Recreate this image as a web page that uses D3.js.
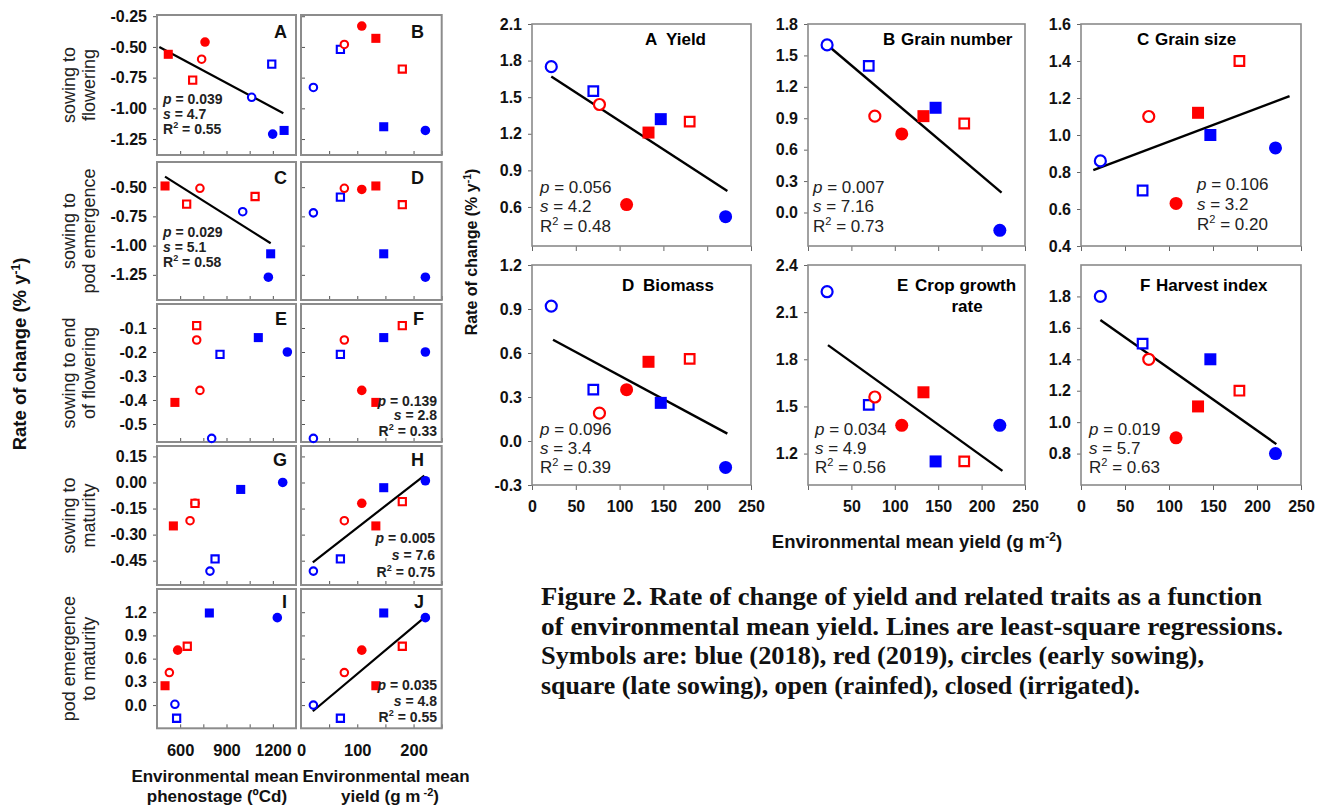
<!DOCTYPE html>
<html lang="en">
<head>
<meta charset="UTF-8">
<script src="https://cdn.jsdelivr.net/npm/d3@7"></script>
<title>Rate of change vs environmental mean</title>
<style>
  body { margin: 0; background: #fff; }
</style>
</head>
<body>
<script>
const FONT = "'Liberation Sans', Arial, Helvetica, sans-serif";
const SERIF = "'Liberation Serif', 'Times New Roman', serif";
const blue = "#0000ff", red = "#ff0000";

// environments: colour b=2018 r=2019, shape c=early s=late sowing, fill o=rainfed f=irrigated
const envSym = ["bco", "bso", "rco", "rcf", "rsf", "bsf", "rso", "bcf"];
const envYield = [22, 70, 77, 108, 133, 147, 180, 221];

// ---- right block (rate of change vs environmental mean yield)
const rateYield     = [1.75, 1.55, 1.44, 0.62, 1.21, 1.32, 1.30, 0.52];
const rateGrainNum  = [1.60, 1.40, 0.92, 0.75, 0.92, 1.00, 0.85, -0.17];
const rateGrainSize = [0.86, 0.70, 1.10, 0.63, 1.12, 1.00, 1.40, 0.93];
const rateBiomass   = [0.92, 0.35, 0.19, 0.35, 0.54, 0.26, 0.56, -0.18];
const rateCgr       = [2.23, 1.51, 1.56, 1.38, 1.59, 1.15, 1.15, 1.38];
const rateHi        = [1.80, 1.50, 1.40, 0.90, 1.10, 1.40, 1.20, 0.80];

// regression lines [x0, y0, x1, y1]
const fitYield     = [22, 1.67, 223, 0.73];
const fitGrainNum  = [25, 1.58, 223, 0.19];
const fitGrainSize = [14, 0.81, 237, 1.21];
const fitBiomass   = [24, 0.69, 223, 0.05];
const fitCgr       = [23, 1.89, 224, 1.09];
const fitHi        = [22, 1.65, 222, 0.86];

// p, s, R2
const statYield     = ["0.056", "4.2", "0.48"];
const statGrainNum  = ["0.007", "7.16", "0.73"];
const statGrainSize = ["0.106", "3.2", "0.20"];
const statBiomass   = ["0.096", "3.4", "0.39"];
const statCgr       = ["0.034", "4.9", "0.56"];
const statHi        = ["0.019", "5.7", "0.63"];

const ticksYield     = [0.6, 0.9, 1.2, 1.5, 1.8, 2.1];
const ticksGrainNum  = [0, 0.3, 0.6, 0.9, 1.2, 1.5, 1.8];
const ticksGrainSize = [0.4, 0.6, 0.8, 1.0, 1.2, 1.4, 1.6];
const ticksBiomass   = [-0.3, 0, 0.3, 0.6, 0.9, 1.2];
const ticksCgr       = [1.2, 1.5, 1.8, 2.1, 2.4];
const ticksHi        = [0.8, 1.0, 1.2, 1.4, 1.6, 1.8];
const ticksYieldX    = [0, 50, 100, 150, 200, 250];

// ---- left block (phenological phases)
const phenoFlower    = [1063, 1193, 739, 761, 523, 1273, 681, 1199];
const phenoPodEm     = [1005, 1085, 728, null, 502, 1186, 642, 1171];
const phenoEndFlower = [804, 858, 707, 728, 566, 1106, 707, 1294];
const phenoMaturity  = [793, 826, 664, 696, 556, 992, 696, 1264];
const phenoPodToMat  = [566, 577, 530, 584, 502, 789, 646, 1229];

const rateFlowerA    = [-0.91, -0.64, -0.60, -0.46, -0.56, -1.18, -0.77, -1.21];
const rateFlowerB    = [-0.83, -0.52, -0.48, -0.33, -0.43, -1.15, -0.68, -1.18];
const ratePodEmC     = [-0.71, -0.58, -0.51, -0.52, -0.49, -1.07, -0.645, -1.27];
const ratePodEmD     = [-0.72, -0.585, -0.51, -0.52, -0.49, -1.07, -0.65, -1.27];
const rateEndFlowerE = [-0.56, -0.21, -0.15, -0.36, -0.41, -0.14, -0.09, -0.20];
const rateEndFlowerF = [-0.56, -0.21, -0.15, -0.36, -0.41, -0.14, -0.09, -0.20];
const rateMaturityG  = [-0.51, -0.44, -0.22, -0.12, -0.25, -0.04, -0.12, 0.00];
const rateMaturityH  = [-0.51, -0.44, -0.22, -0.12, -0.25, -0.03, -0.11, 0.01];
const ratePodToMatI  = [0.01, -0.17, 0.42, 0.71, 0.25, 1.19, 0.76, 1.13];
const ratePodToMatJ  = [0.00, -0.17, 0.42, 0.71, 0.25, 1.19, 0.76, 1.13];

// symbols as they appear in panels C and E
const symPodEmC     = ["bco", "rso", "rco", "rcf", "rsf", "bsf", "rso", "bcf"];
const symEndFlowerE = ["bco", "bso", "rco", "rco", "rsf", "bsf", "rso", "bcf"];

const fitFlowerA   = [465, -0.50, 1268, -1.04];
const fitPodEmC    = [502, -0.41, 1186, -0.98];
const fitMaturityH = [21, -0.46, 219, 0.04];
const fitPodToMatJ = [21, -0.08, 219, 1.13];

const statFlowerA    = ["0.039", "4.7", "0.55"];
const statPodEmC     = ["0.029", "5.1", "0.58"];
const statEndFlowerF = ["0.139", "2.8", "0.33"];
const statMaturityH  = ["0.005", "7.6", "0.75"];
const statPodToMatJ  = ["0.035", "4.8", "0.55"];

const ticksFlower    = [-1.25, -1.0, -0.75, -0.5, -0.25];
const ticksPodEm     = [-1.25, -1.0, -0.75, -0.5];
const ticksEndFlower = [-0.5, -0.4, -0.3, -0.2, -0.1];
const ticksMaturity  = [-0.45, -0.3, -0.15, 0, 0.15];
const ticksPodToMat  = [0, 0.3, 0.6, 0.9, 1.2];
const ticksPhenoMarks = [450, 600, 750, 900, 1050, 1200, 1350];
const ticksPhenoLabels = [600, 900, 1200];
const ticksYieldLabels = [0, 100, 200];

const rowTitles = [["sowing to", "flowering"], ["sowing to", "pod emergence"],
                   ["sowing to end", "of flowering"], ["sowing to", "maturity"],
                   ["pod emergence", "to maturity"]];

const captionLines = [
  "Figure 2. Rate of change of yield and related traits as a function",
  "of environmental mean yield. Lines are least-square regressions.",
  "Symbols are: blue (2018), red (2019), circles (early sowing),",
  "square (late sowing), open (rainfed), closed (irrigated)."
];

const svg = d3.select("body").append("svg")
  .attr("width", 1328).attr("height", 805)
  .attr("font-family", FONT);

function drawSymbols(g, x, y, xs, ys, syms, big) {
  const area = big ? { cf: 133, sf: 144, co: 95, so: 92 } : { cf: 72, sf: 82, co: 44, so: 52 };
  const sw = big ? 2.2 : 2.1;
  xs.forEach((xv, i) => {
    const yv = ys[i];
    if (xv == null || yv == null) return;
    const s = syms[i];
    const col = s[0] === "b" ? blue : red;
    const open = s[2] === "o";
    const type = s[1] === "c" ? d3.symbolCircle : d3.symbolSquare;
    const size = area[s[1] + (open ? "o" : "f")];
    g.append("path")
      .attr("d", d3.symbol(type, size)())
      .attr("transform", `translate(${x(xv)},${y(yv)})`)
      .attr("fill", open ? "#fff" : col)
      .attr("stroke", open ? col : "none")
      .attr("stroke-width", sw);
  });
}

function drawFit(g, x, y, f, w) {
  g.append("line")
    .attr("x1", x(f[0])).attr("y1", y(f[1]))
    .attr("x2", x(f[2])).attr("y2", y(f[3]))
    .attr("stroke", "#000").attr("stroke-width", w);
}

function drawStats(g, x, ys, anchor, size, bold, vals) {
  const base = (yy) => g.append("text").attr("x", x).attr("y", yy)
    .attr("text-anchor", anchor).attr("font-size", size)
    .attr("font-weight", bold ? "bold" : "normal").attr("fill", "#222");
  const t1 = base(ys[0]);
  t1.append("tspan").attr("font-style", "italic").text("p");
  t1.append("tspan").text(" = " + vals[0]);
  const t2 = base(ys[1]);
  t2.append("tspan").attr("font-style", "italic").text("s");
  t2.append("tspan").text(" = " + vals[1]);
  const t3 = base(ys[2]);
  t3.append("tspan").text("R");
  t3.append("tspan").attr("dy", -size * 0.4).attr("font-size", size * 0.65).text("2");
  t3.append("tspan").attr("dy", size * 0.4).text(" = " + vals[2]);
}

// ================= right block =================
const colX = [[532, 751], [808, 1025], [1081, 1301]];
const rowY = [[24, 246], [265, 485]];

const rightPanels = [
  { letter: "A", title: ["Yield"], col: 0, row: 0, dom: [0.28, 2.1], ticks: ticksYield, ys: rateYield, fit: fitYield, stats: statYield, lx: 645, tx: 666, sx: 540, sy: [193, 212, 232] },
  { letter: "B", title: ["Grain number"], col: 1, row: 0, dom: [-0.32, 1.8], ticks: ticksGrainNum, ys: rateGrainNum, fit: fitGrainNum, stats: statGrainNum, lx: 883, tx: 901, sx: 813, sy: [193, 212, 232] },
  { letter: "C", title: ["Grain size"], col: 2, row: 0, dom: [0.4, 1.6], ticks: ticksGrainSize, ys: rateGrainSize, fit: fitGrainSize, stats: statGrainSize, lx: 1137, tx: 1155, sx: 1197, sy: [190, 210, 230] },
  { letter: "D", title: ["Biomass"], col: 0, row: 1, dom: [-0.3, 1.2], ticks: ticksBiomass, ys: rateBiomass, fit: fitBiomass, stats: statBiomass, lx: 622, tx: 643, sx: 540, sy: [435, 454, 473] },
  { letter: "E", title: ["Crop growth", "rate"], col: 1, row: 1, dom: [1.0, 2.4], ticks: ticksCgr, ys: rateCgr, fit: fitCgr, stats: statCgr, lx: 897, tx: 915, sx: 815, sy: [435, 454, 473] },
  { letter: "F", title: ["Harvest index"], col: 2, row: 1, dom: [0.6, 2.0], ticks: ticksHi, ys: rateHi, fit: fitHi, stats: statHi, lx: 1140, tx: 1156, sx: 1089, sy: [435, 454, 473] }
];

rightPanels.forEach(p => {
  const [x0, x1] = colX[p.col], [y0, y1] = rowY[p.row];
  const x = d3.scaleLinear().domain([0, 250]).range([x0, x1]);
  const y = d3.scaleLinear().domain(p.dom).range([y1, y0]);
  const g = svg.append("g");

  const ya = g.append("g").attr("transform", `translate(${x0},0)`)
    .call(d3.axisLeft(y).tickValues(p.ticks).tickSize(4).tickPadding(6).tickFormat(d => d.toFixed(1)));
  ya.select(".domain").remove();
  ya.attr("font-family", FONT).attr("font-size", 16).attr("font-weight", "bold").attr("color", "#666");
  ya.selectAll("text").attr("fill", "#111");

  const xa = g.append("g").attr("transform", `translate(0,${y1})`)
    .call(d3.axisBottom(x).tickValues(ticksYieldX).tickSize(5).tickPadding(11)
      .tickFormat(d => p.row === 1 && !(p.col === 1 && d === 0) ? d : ""));
  xa.select(".domain").remove();
  xa.attr("font-family", FONT).attr("font-size", 16).attr("font-weight", "bold").attr("color", "#666");
  xa.selectAll("text").attr("fill", "#111");

  g.append("rect").attr("x", x0).attr("y", y0).attr("width", x1 - x0).attr("height", y1 - y0)
    .attr("fill", "none").attr("stroke", "#8a8a8a").attr("stroke-width", 1.6);

  drawFit(g, x, y, p.fit, 2.4);
  drawSymbols(g, x, y, envYield, p.ys, envSym, true);
  drawStats(g, p.sx, p.sy, "start", 17, false, p.stats);

  const tb = p.row === 0 ? 45 : 291;
  g.append("text").attr("x", p.lx).attr("y", tb).attr("font-size", 17).attr("font-weight", "bold").text(p.letter);
  g.append("text").attr("x", p.tx).attr("y", tb).attr("font-size", 17).attr("font-weight", "bold").text(p.title[0]);
  if (p.title[1]) {
    g.append("text").attr("x", 967).attr("y", tb + 21).attr("text-anchor", "middle")
      .attr("font-size", 17).attr("font-weight", "bold").text(p.title[1]);
  }
});

// right axis titles
const rYT = svg.append("text").attr("transform", "translate(477,252) rotate(-90)")
  .attr("text-anchor", "middle").attr("font-size", 16).attr("font-weight", "bold").attr("fill", "#111");
rYT.append("tspan").text("Rate of change (% y");
rYT.append("tspan").attr("dy", -6).attr("font-size", 10.5).text("-1");
rYT.append("tspan").attr("dy", 6).text(")");

const rXT = svg.append("text").attr("x", 917).attr("y", 548)
  .attr("text-anchor", "middle").attr("font-size", 18.5).attr("font-weight", "bold").attr("fill", "#111");
rXT.append("tspan").text("Environmental mean yield (g m");
rXT.append("tspan").attr("dy", -7).attr("font-size", 12).text("-2");
rXT.append("tspan").attr("dy", 7).text(")");

// ================= left block =================
const lColX = [[157, 296], [301, 441.7]];
const lRows = [
  { top: 15, bottom: 155, dom: [-1.38, -0.24], ticks: ticksFlower, dig: 2, px: phenoFlower, yA: rateFlowerA, yB: rateFlowerB, symA: envSym, letters: ["A", "B"], fitA: fitFlowerA, statA: statFlowerA, statAPos: [163, [104, 118.5, 134], "start"], lb: 38 },
  { top: 162, bottom: 300, dom: [-1.465, -0.285], ticks: ticksPodEm, dig: 2, px: phenoPodEm, yA: ratePodEmC, yB: ratePodEmD, symA: symPodEmC, letters: ["C", "D"], fitA: fitPodEmC, statA: statPodEmC, statAPos: [163, [237, 252, 267], "start"], lb: 184 },
  { top: 304, bottom: 442, dom: [-0.575, 0], ticks: ticksEndFlower, dig: 1, px: phenoEndFlower, yA: rateEndFlowerE, yB: rateEndFlowerF, symA: symEndFlowerE, letters: ["E", "F"], statB: statEndFlowerF, statBPos: [437, [405.7, 420, 435.5], "end"], lb: 325 },
  { top: 446, bottom: 585, dom: [-0.59, 0.21], ticks: ticksMaturity, dig: 2, px: phenoMaturity, yA: rateMaturityG, yB: rateMaturityH, symA: envSym, letters: ["G", "H"], fitB: fitMaturityH, statB: statMaturityH, statBPos: [435, [543, 560, 577], "end"], lb: 466 },
  { top: 589, bottom: 728.3, dom: [-0.3, 1.5], ticks: ticksPodToMat, dig: 1, px: phenoPodToMat, yA: ratePodToMatI, yB: ratePodToMatJ, symA: envSym, letters: ["I", "J"], fitB: fitPodToMatJ, statB: statPodToMatJ, statBPos: [437, [690, 705.5, 721.5], "end"], lb: 608 }
];

lRows.forEach((r, ri) => {
  const y = d3.scaleLinear().domain(r.dom).range([r.bottom, r.top]);
  const xP = d3.scaleLinear().domain([450, 1350]).range(lColX[0]);
  const xY = d3.scaleLinear().domain([0, 250]).range(lColX[1]);
  const last = ri === lRows.length - 1;

  [0, 1].forEach(c => {
    const [x0, x1] = lColX[c];
    const x = c === 0 ? xP : xY;
    const g = svg.append("g");

    // y axis
    const ya = g.append("g").attr("transform", `translate(${x0},0)`)
      .call(c === 0
        ? d3.axisLeft(y).tickValues(r.ticks).tickSize(4).tickPadding(6).tickFormat(d => d.toFixed(r.dig))
        : d3.axisRight(y).tickValues(r.ticks).tickSize(4).tickFormat(""));
    ya.select(".domain").remove();
    ya.attr("font-family", FONT).attr("font-size", 16).attr("font-weight", "bold").attr("color", "#555");
    ya.selectAll("text").attr("fill", "#111");

    // bottom tick marks (inward)
    const xa = g.append("g").attr("transform", `translate(0,${r.bottom})`)
      .call(d3.axisTop(x).tickValues(c === 0 ? ticksPhenoMarks : ticksYieldX).tickSize(4).tickFormat(""));
    xa.select(".domain").remove();
    xa.attr("color", "#555");

    if (last) {
      const xl = g.append("g").attr("transform", `translate(0,${r.bottom})`)
        .call(d3.axisBottom(x).tickValues(c === 0 ? ticksPhenoLabels : ticksYieldLabels)
          .tickSize(0).tickPadding(16).tickFormat(d3.format("d")));
      xl.select(".domain").remove();
      xl.attr("font-family", FONT).attr("font-size", 16.5).attr("font-weight", "bold");
      xl.selectAll("text").attr("fill", "#111");
    }

    g.append("rect").attr("x", x0).attr("y", r.top).attr("width", x1 - x0).attr("height", r.bottom - r.top)
      .attr("fill", "none").attr("stroke", "#8c8c8c").attr("stroke-width", 2);

    const fit = c === 0 ? r.fitA : r.fitB;
    if (fit) drawFit(g, x, y, fit, 2.2);

    drawSymbols(g, x, y, c === 0 ? r.px : envYield, c === 0 ? r.yA : r.yB, c === 0 ? r.symA : envSym, false);

    const st = c === 0 ? r.statA : r.statB;
    const sp = c === 0 ? r.statAPos : r.statBPos;
    if (st) drawStats(g, sp[0], sp[1], sp[2], 14, true, st);

    g.append("text").attr("x", c === 0 ? 287 : 424).attr("y", r.lb)
      .attr("text-anchor", "end").attr("font-size", 18).attr("font-weight", "bold").attr("fill", "#111")
      .text(r.letters[c]);
  });

  // row title
  const cy = (r.top + r.bottom) / 2;
  rowTitles[ri].forEach((t, k) => {
    svg.append("text").attr("transform", `translate(${k === 0 ? 75 : 95},${cy}) rotate(-90)`)
      .attr("text-anchor", "middle").attr("font-size", 18).attr("fill", "#222").text(t);
  });
});

// left axis titles
const lYT = svg.append("text").attr("transform", "translate(26,354) rotate(-90)")
  .attr("text-anchor", "middle").attr("font-size", 18.5).attr("font-weight", "bold").attr("fill", "#111");
lYT.append("tspan").text("Rate of change (% y");
lYT.append("tspan").attr("dy", -6).attr("font-size", 12).text("-1");
lYT.append("tspan").attr("dy", 6).text(")");

svg.append("text").attr("x", 215).attr("y", 782).attr("text-anchor", "middle")
  .attr("font-size", 17).attr("font-weight", "bold").attr("fill", "#111").text("Environmental mean");
svg.append("text").attr("x", 217).attr("y", 802).attr("text-anchor", "middle")
  .attr("font-size", 17).attr("font-weight", "bold").attr("fill", "#111").text("phenostage (ºCd)");
svg.append("text").attr("x", 386).attr("y", 782).attr("text-anchor", "middle")
  .attr("font-size", 17).attr("font-weight", "bold").attr("fill", "#111").text("Environmental mean");
const lXT = svg.append("text").attr("x", 390).attr("y", 802).attr("text-anchor", "middle")
  .attr("font-size", 17).attr("font-weight", "bold").attr("fill", "#111");
lXT.append("tspan").text("yield (g m");
lXT.append("tspan").attr("dy", -6).attr("font-size", 11).text(" -2");
lXT.append("tspan").attr("dy", 6).text(")");

// caption
const capLen = [721, 742, 663, 599];
captionLines.forEach((line, i) => {
  svg.append("text").attr("x", 541).attr("y", 605 + i * 29.5)
    .attr("font-family", SERIF).attr("font-size", 25).attr("font-weight", "bold").attr("fill", "#111")
    .attr("textLength", capLen[i]).attr("lengthAdjust", "spacingAndGlyphs")
    .text(line);
});
</script>
</body>
</html>
